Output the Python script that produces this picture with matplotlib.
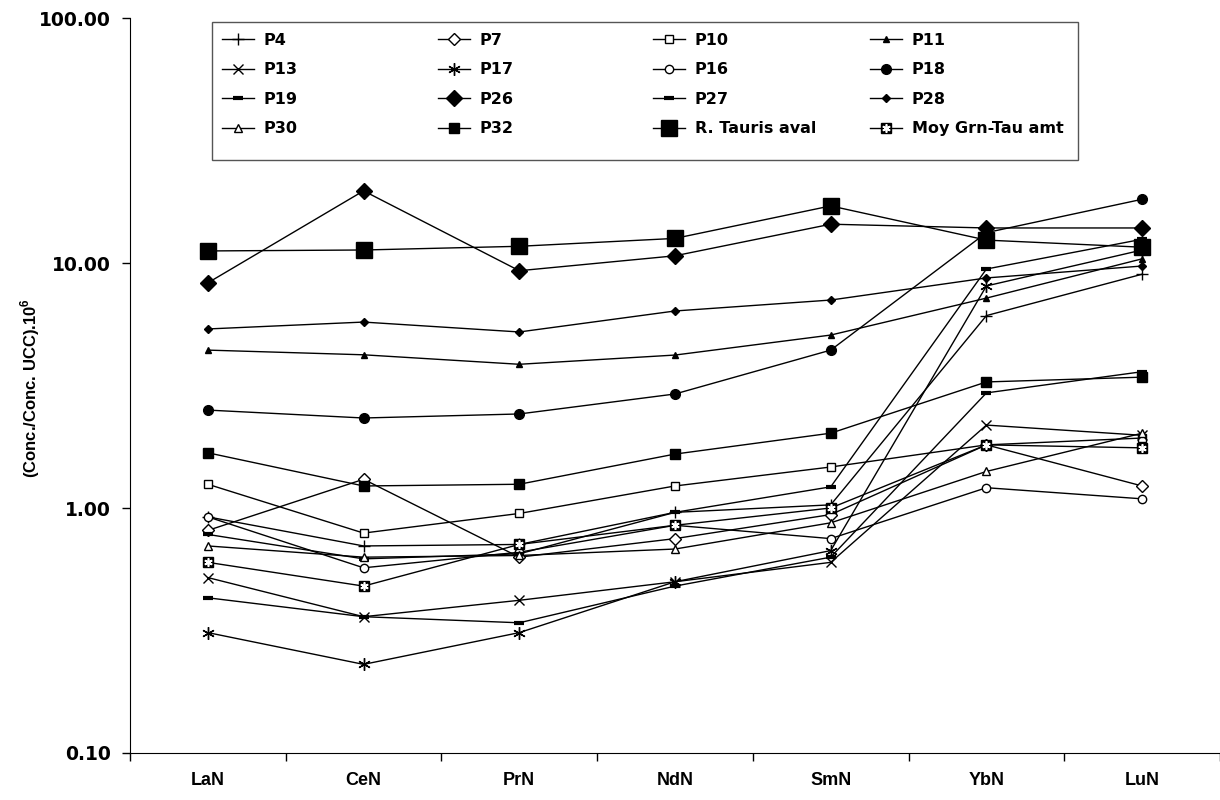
import numpy as np
import matplotlib
matplotlib.use('Agg')
import matplotlib.pyplot as plt
from matplotlib.patches import Rectangle
from matplotlib.ticker import FixedLocator, NullLocator, NullFormatter

plt.rcParams['font.family'] = ['Liberation Sans', 'DejaVu Sans']
plt.rcParams['mathtext.fontset'] = 'custom'
plt.rcParams['mathtext.bf'] = 'Liberation Sans:bold'
plt.rcParams['mathtext.rm'] = 'Liberation Sans:bold'

# Donnees
categories = ['LaN', 'CeN', 'PrN', 'NdN', 'SmN', 'YbN', 'LuN']

p4 = [0.92, 0.70, 0.71, 0.96, 1.03, 6.1, 9.0]
p7 = [0.81, 1.31, 0.63, 0.75, 0.94, 1.81, 1.23]
p10 = [1.25, 0.79, 0.95, 1.23, 1.47, 1.81, 1.93]
p11 = [4.41, 4.22, 3.86, 4.21, 5.08, 7.19, 10.4]
p13 = [0.52, 0.36, 0.42, 0.50, 0.60, 2.18, 1.98]
p17 = [0.31, 0.23, 0.31, 0.50, 0.67, 8.06, 11.3]
p16 = [0.92, 0.57, 0.66, 0.85, 0.75, 1.21, 1.09]
p18 = [2.51, 2.33, 2.42, 2.92, 4.41, 13.3, 18.2]
p19 = [0.78, 0.62, 0.65, 0.96, 1.22, 9.45, 12.5]
p26 = [8.3, 19.7, 9.3, 10.7, 14.4, 13.9, 13.9]
p27 = [0.43, 0.36, 0.34, 0.48, 0.63, 2.95, 3.6]
p28 = [5.38, 5.74, 5.23, 6.37, 7.06, 8.69, 9.72]
p30 = [0.70, 0.63, 0.64, 0.68, 0.87, 1.41, 2.02]
p32 = [1.68, 1.23, 1.25, 1.66, 2.02, 3.27, 3.42]
tauris_aval = [11.2, 11.3, 11.7, 12.6, 17.1, 12.4, 11.6]
moy_grn_tau = [0.60, 0.48, 0.71, 0.85, 1.00, 1.81, 1.76]

x = np.arange(len(categories))

fig = plt.figure(figsize=(12.2, 8), dpi=100)
ax = fig.add_axes([130 / 1220, 47 / 800, 1 - 130 / 1220, 735 / 800])

k = dict(color='black', lw=1.0, clip_on=False)
h = {}
h['P4'], = ax.plot(x, p4, marker='+', ms=8, mew=1.0, **k)
h['P7'], = ax.plot(x, p7, marker='D', ms=6, mfc='white', mec='black', mew=1.0, **k)
h['P10'], = ax.plot(x, p10, marker='s', ms=6, mfc='white', mec='black', mew=1.0, **k)
h['P11'], = ax.plot(x, p11, marker='^', ms=4, mfc='black', mec='black', **k)
h['P13'], = ax.plot(x, p13, marker='x', ms=7, mew=1.0, **k)
h['P17'], = ax.plot(x, p17, marker=(6, 2, 0), ms=9, mew=1.0, **k)
h['P16'], = ax.plot(x, p16, marker='o', ms=6, mfc='white', mec='black', mew=1.0, **k)
h['P18'], = ax.plot(x, p18, marker='o', ms=7, mfc='black', mec='black', **k)
h['P19'], = ax.plot(x, p19, marker='_', ms=7, mew=3, **k)
h['P26'], = ax.plot(x, p26, marker='D', ms=8, mfc='black', mec='black', **k)
h['P27'], = ax.plot(x, p27, marker='_', ms=7, mew=3, **k)
h['P28'], = ax.plot(x, p28, marker='D', ms=4, mfc='black', mec='black', **k)
h['P30'], = ax.plot(x, p30, marker='^', ms=6, mfc='white', mec='black', mew=1.0, **k)
h['P32'], = ax.plot(x, p32, marker='s', ms=6.5, mfc='black', mec='black', **k)
h['R. Tauris aval'], = ax.plot(x, tauris_aval, marker='s', ms=11, mfc='black', mec='black', **k)
moy_line, = ax.plot(x, moy_grn_tau, marker='s', ms=6.5, mfc='black', mec='black', **k)
moy_star, = ax.plot(x, moy_grn_tau, ls='none', marker=(6, 2, 0), ms=6, mec='white', mew=1.2, clip_on=False)
h['Moy Grn-Tau amt'] = (moy_line, moy_star)

ax.set_yscale('log')
ax.set_ylim(0.1, 100)
ax.set_xlim(-0.5, 6.5)
ax.yaxis.set_major_locator(FixedLocator([0.1, 1, 10, 100]))
ax.yaxis.set_minor_locator(NullLocator())
ax.yaxis.set_minor_formatter(NullFormatter())
ax.set_yticklabels(['0.10', '1.00', '10.00', '100.00'], fontfamily='DejaVu Sans',
                   fontweight='bold', fontsize=13.5)

ax.set_xticks(np.arange(-0.5, 7.0, 1.0))
ax.set_xticklabels([])
ax.set_xticks(x, minor=True)
ax.set_xticklabels(categories, minor=True, fontweight='bold', fontsize=13)
ax.tick_params(axis='x', which='minor', length=0, pad=14)
ax.tick_params(axis='x', which='major', length=6, width=1)
ax.tick_params(axis='y', which='major', length=6, width=1, pad=8)

ax.spines['top'].set_visible(False)
ax.spines['right'].set_visible(False)

fig.text(30 / 1220, 1 - 388 / 800, r'(Conc./Conc. UCC).10$^{\mathbf{6}}$', rotation=90,
         ha='center', va='center', fontsize=12, fontweight='bold')

# legende : 4 colonnes a pas egal, dans un cadre
columns = [['P4', 'P13', 'P19', 'P30'],
           ['P7', 'P17', 'P26', 'P32'],
           ['P10', 'P16', 'P27', 'R. Tauris aval'],
           ['P11', 'P18', 'P28', 'Moy Grn-Tau amt']]
col_x = [222, 438, 653, 870]
frame = Rectangle((212 / 1220, 1 - 160 / 800), (1078 - 212) / 1220, 138 / 800,
                  transform=fig.transFigure, facecolor='white', edgecolor='#555555',
                  lw=1.0, zorder=3)
fig.add_artist(frame)
for cx, names in zip(col_x, columns):
    fig.legend([h[n] for n in names], names, loc='upper left',
               bbox_to_anchor=(cx / 1220, 1 - 33 / 800), frameon=False,
               borderpad=0, borderaxespad=0, handlelength=2.0, handletextpad=0.6,
               labelspacing=0.9, prop={'family': 'DejaVu Sans', 'weight': 'bold', 'size': 11.5})

fig.savefig('out.png', dpi=100)
